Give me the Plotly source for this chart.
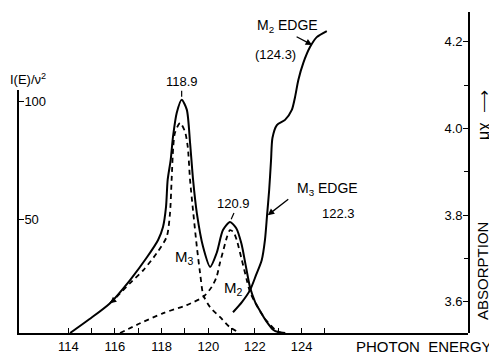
import plotly.graph_objects as go

# ---------------- data ----------------
# total emission intensity I(E)/nu^2 (solid)
intensity_e = [114.08, 114.9, 115.79, 116.65, 117.38, 117.85, 118.06, 118.19, 118.26, 118.39,
               118.49, 118.65, 118.86, 119.08, 119.22, 119.35, 119.51, 119.78, 120.08,
               120.36, 120.63, 120.93, 121.2, 121.42, 121.6, 121.79, 122.0, 122.22, 122.5,
               122.78, 123.0, 123.3]
intensity_v = [2.2, 8.0, 14.8, 24.6, 34.3, 41.5, 47.0, 55.5, 66.9, 75.4,
               85.2, 95.3, 100.8, 96.6, 82.6, 66.9, 52.9, 38.5, 30.1,
               36.0, 45.7, 49.1, 46.5, 40.0, 31.0, 21.5, 15.5, 11.5, 7.0,
               3.6, 2.6, 2.2]

# M3 component (dashed)
m3_e = [115.79, 116.08, 116.65, 117.22, 117.79, 118.22, 118.36, 118.43, 118.5, 118.57,
        118.79, 119.0, 119.12, 119.22, 119.36, 119.51, 119.65, 119.79, 120.08, 120.51,
        120.93, 121.36]
m3_v = [14.8, 17.5, 23.3, 28.8, 35.9, 42.9, 52.8, 66.9, 81.0, 86.7,
        91.0, 87.4, 81.0, 66.9, 52.8, 38.7, 27.5, 18.2, 13.1, 8.9,
        4.6, 2.2]

# M2 component (dashed)
m2_e = [116.22, 117.08, 118.07, 119.08, 119.79, 120.15, 120.36, 120.5, 120.65, 120.79,
        120.93, 121.08, 121.22, 121.44, 121.65, 121.79, 122.0, 122.22, 122.51, 122.94,
        123.16]
m2_v = [2.2, 6.3, 10.6, 14.0, 17.5, 21.7, 26.0, 31.8, 37.3, 42.4,
        45.7, 44.9, 41.5, 33.0, 24.6, 19.5, 15.2, 11.4, 7.2, 3.0,
        2.2]

# absorption mu*x (solid, right axis)
absorption_e = [121.06, 121.45, 121.79, 122.05, 122.29, 122.43, 122.52, 122.61, 122.69, 122.75,
                122.94, 123.29, 123.58, 123.72, 123.86, 124.07, 124.36, 124.65, 125.08]
absorption_mu = [3.576, 3.600, 3.627, 3.662, 3.696, 3.743, 3.800, 3.858, 3.927, 3.978,
                 4.008, 4.020, 4.043, 4.073, 4.112, 4.151, 4.188, 4.211, 4.225]

x_tickvals = [114, 115, 116, 117, 118, 119, 120, 121, 122, 123, 124, 125]
x_ticktext = ["114", "", "116", "", "118", "", "120", "", "122", "", "124", ""]
left_tickvals = [50, 100]
right_tickvals = [3.6, 3.8, 4.0, 4.2]
right_ticktext = ["3.6", "3.8", "4.0", "4.2"]

# ---------------- figure ----------------
FONT = "Liberation Sans, Arial, sans-serif"
fig = go.Figure()

dash = "5px,4px"
fig.add_trace(go.Scatter(x=m3_e, y=m3_v, mode="lines", yaxis="y",
                         line=dict(color="black", width=1.8, dash=dash, shape="spline", smoothing=0.7),
                         hoverinfo="skip"))
fig.add_trace(go.Scatter(x=m2_e, y=m2_v, mode="lines", yaxis="y",
                         line=dict(color="black", width=1.8, dash=dash, shape="spline", smoothing=0.7),
                         hoverinfo="skip"))
fig.add_trace(go.Scatter(x=intensity_e, y=intensity_v, mode="lines", yaxis="y",
                         line=dict(color="black", width=2, shape="spline", smoothing=0.7),
                         hoverinfo="skip"))
fig.add_trace(go.Scatter(x=absorption_e, y=absorption_mu, mode="lines", yaxis="y2",
                         line=dict(color="black", width=2, shape="spline", smoothing=0.7),
                         hoverinfo="skip"))

tickfont = dict(family=FONT, size=13, color="black")

# the page body has an 8px margin, so the figure is sized to fill the rest of the window
fig.update_layout(
    width=489, height=347,
    margin=dict(l=11, r=29, t=4, b=22, autoexpand=False),
    paper_bgcolor="white", plot_bgcolor="rgba(0,0,0,0)",
    showlegend=False,
    xaxis=dict(range=[111.89, 131.13], showgrid=False, zeroline=False, automargin=False,
               showline=True, linecolor="black", linewidth=2,
               tickmode="array", tickvals=x_tickvals, ticktext=x_ticktext,
               ticks="inside", ticklen=5, tickwidth=1.2, tickcolor="black",
               tickfont=tickfont, anchor="y"),
    yaxis=dict(domain=[0, 0.757], range=[2.2, 104.9], showgrid=False, zeroline=False,
               automargin=False,
               showline=True, linecolor="black", linewidth=2,
               tickmode="array", tickvals=left_tickvals,
               ticks="inside", ticklen=5, tickwidth=1.2, tickcolor="black",
               ticklabelposition="inside", tickfont=tickfont, anchor="x"),
    yaxis2=dict(domain=[0, 1], range=[3.528, 4.269], showgrid=False, zeroline=False,
                side="right", anchor="x", automargin=False,
                showline=True, linecolor="black", linewidth=2,
                tickmode="array", tickvals=right_tickvals, ticktext=right_ticktext,
                ticks="inside", ticklen=5, tickwidth=1.2, tickcolor="black",
                ticklabelposition="inside", tickfont=tickfont,
                minor=dict(tickvals=[3.7, 3.9, 4.1], ticks="inside", ticklen=4,
                           tickcolor="black", tickwidth=1)),
)

afont = dict(family=FONT, size=13, color="black")
ann = []
# peak labels with small tick marks
ann.append(dict(x=118.86, y=100.8, xref="x", yref="y", text="118.9", showarrow=True,
                arrowhead=0, arrowwidth=1.2, ax=0, ay=-9, standoff=3, font=afont,
                yanchor="bottom", xanchor="center"))
ann.append(dict(x=120.93, y=49.1, xref="x", yref="y", text="120.9", showarrow=True,
                arrowhead=0, arrowwidth=1.2, ax=4, ay=-9, standoff=3, font=afont,
                yanchor="bottom", xanchor="center"))
# small direction arrow drawn on the solid curve
ann.append(dict(x=115.79, y=14.8, xref="x", yref="y", text="", showarrow=True,
                arrowhead=2, arrowsize=0.9, arrowwidth=1.4, ax=5, ay=-4))
# component labels
ann.append(dict(x=119.0, y=34.3, xref="x", yref="y", text="M<sub>3</sub>", showarrow=False,
                font=dict(family=FONT, size=15, color="black")))
ann.append(dict(x=121.06, y=20.8, xref="x", yref="y", text="M<sub>2</sub>", showarrow=False,
                font=dict(family=FONT, size=15, color="black")))
# edges
ann.append(dict(x=122.0, y=4.236, xref="x", yref="y2", text="M<sub>2</sub> EDGE",
                showarrow=False, xanchor="left", font=dict(family=FONT, size=14, color="black")))
ann.append(dict(x=122.86, y=4.170, xref="x", yref="y2", text="(124.3)",
                showarrow=False, font=afont))
ann.append(dict(x=124.45, y=4.193, xref="x", yref="y2", text="", showarrow=True,
                arrowhead=2, arrowsize=1, arrowwidth=1.3, ax=-17, ay=-9))
ann.append(dict(x=123.7, y=3.86, xref="x", yref="y2", text="M<sub>3</sub> EDGE",
                showarrow=False, xanchor="left", font=dict(family=FONT, size=14, color="black")))
ann.append(dict(x=125.6, y=3.803, xref="x", yref="y2", text="122.3",
                showarrow=False, font=afont))
ann.append(dict(x=122.55, y=3.80, xref="x", yref="y2", text="", showarrow=True,
                arrowhead=2, arrowsize=1, arrowwidth=1.3, ax=22, ay=-17))
# axis titles
ann.append(dict(x=-0.0245, y=0.79, xref="paper", yref="paper", xanchor="left",
                yanchor="middle", text="I(E)/ν<sup>2</sup>", showarrow=False,
                font=dict(family=FONT, size=13, color="black")))
ann.append(dict(x=1.031, y=0.193, xref="paper", yref="paper", xanchor="center",
                yanchor="middle", text="ABSORPTION", textangle=-90,
                showarrow=False, font=dict(family=FONT, size=15, color="black")))
ann.append(dict(x=1.036, y=0.68, xref="paper", yref="paper", xanchor="center",
                yanchor="middle", text="μχ\u00a0\u00a0⟶", textangle=-90,
                showarrow=False, font=dict(family=FONT, size=16, color="black")))
ann.append(dict(x=1.058, y=-0.0436, xref="paper", yref="paper", xanchor="right",
                yanchor="middle", text="PHOTON\u00a0\u00a0ENERGY", showarrow=False,
                font=dict(family=FONT, size=15, color="black")))
for a in ann:
    a["arrowcolor"] = "black"
fig.update_layout(annotations=ann)

fig.write_html("out.html")
